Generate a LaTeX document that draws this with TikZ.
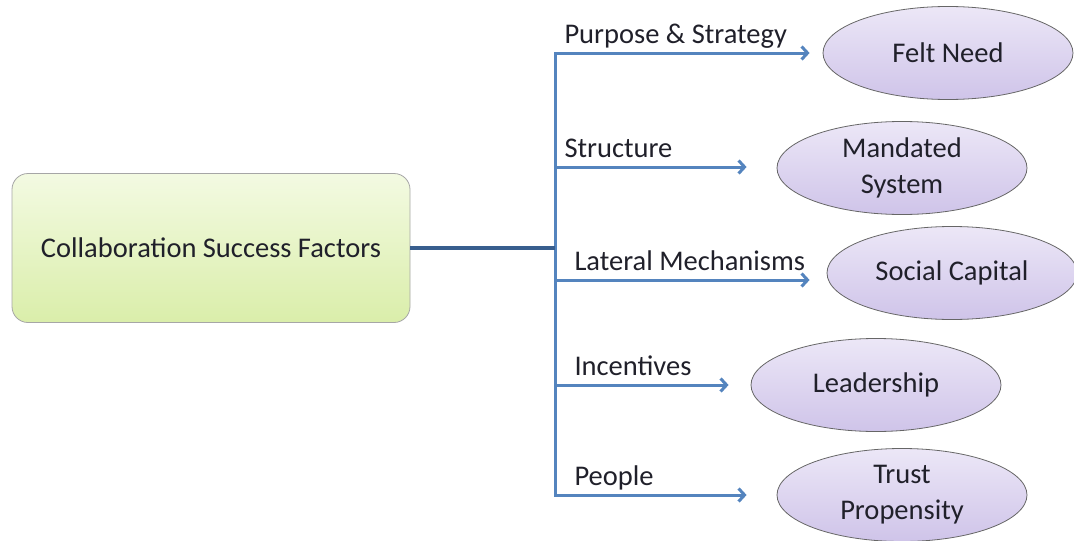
\documentclass[tikz,border=0pt]{standalone}
\usepackage{fontspec}
\setmainfont{Carlito}
\usetikzlibrary{shapes.geometric,arrows.meta}
\definecolor{linkblue}{RGB}{84,132,190}
\definecolor{trunkblue}{RGB}{56,94,142}
\definecolor{lilactop}{RGB}{236,231,247}
\definecolor{lilacbot}{RGB}{207,196,233}
\definecolor{limetop}{RGB}{243,250,226}
\definecolor{limebot}{RGB}{218,238,170}
\definecolor{inkgray}{RGB}{32,32,42}

\begin{document}
\begin{tikzpicture}[x=1pt,y=-1pt,>={Straight Barb[length=6pt,width=13pt]},
	font=\fontsize{28.5}{36}\selectfont,
	factor/.style={shape=ellipse, draw=black!60, thick, top color=lilactop, bottom color=lilacbot,
		minimum width=250pt, minimum height=93pt, inner sep=0pt, align=center, text=inkgray},
	hub/.style={shape=rectangle, rounded corners=16pt, draw=black!35, thick, top color=limetop,
		bottom color=limebot, minimum width=398pt, minimum height=149pt, text=inkgray},
	branch/.style={->, draw=linkblue, line width=3pt, shorten >=22pt},
	lab/.style={at start, anchor=base west, inner sep=0pt, xshift=8pt, yshift=10pt, text=inkgray}]
	\useasboundingbox (0,0) rectangle (1074,541);
	
	\node[hub] (csf) at (211,248) {Collaboration Success Factors};
	
	\node[factor] (1) at (948,53) {Felt Need};
	\node[factor] (2) at (902,168) {Mandated\\System};
	\node[factor] (3) at (952,273) {Social Capital};
	\node[factor] (4) at (876,385) {Leadership};
	\node[factor] (5) at (902,495) {Trust\\Propensity};
	
	% points on the trunk
	\coordinate (b1) at (555,53);
	\coordinate (b2) at (555,167);
	\coordinate (j)  at (555,248);
	\coordinate (b3) at (555,280);
	\coordinate (b4) at (555,385);
	\coordinate (b5) at (555,495);
	
	\draw[draw=linkblue, line width=3pt, line cap=rect] (b1) -- (b5);
	\draw[draw=trunkblue, line width=4pt] (csf) -- (j);
	
	\path
	(b1) edge[branch, shorten >=13pt] node[lab] {Purpose \& Strategy} (b1 -| 1.west)
	(b2) edge[branch, shorten >=30pt] node[lab] {Structure} (b2 -| 2.west)
	(b3) edge[branch, shorten >=17pt] node[lab, xshift=10pt] {Lateral Mechanisms} (b3 -| 3.west)
	(b4) edge[branch] node[lab, xshift=10pt] {Incentives} (b4 -| 4.west)
	(b5) edge[branch, shorten >=30pt] node[lab, xshift=10pt] {People} (b5 -| 5.west);
\end{tikzpicture}
\end{document}
